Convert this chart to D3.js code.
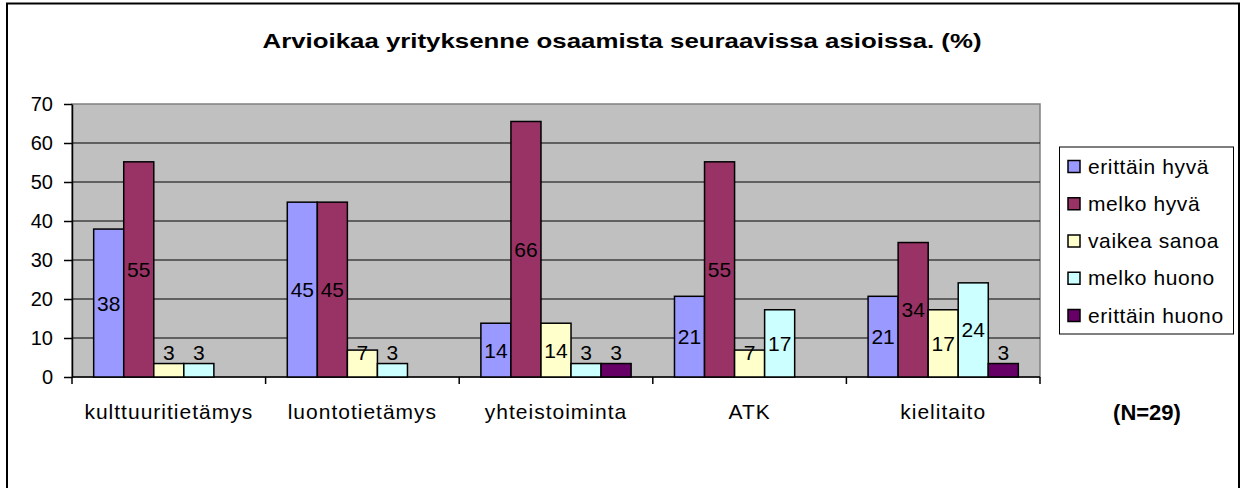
<!DOCTYPE html>
<html>
<head>
<meta charset="utf-8">
<script src="https://cdn.jsdelivr.net/npm/d3@7"></script>
<style>
  body { margin: 0; background: #fff; }
  svg { display: block; font-family: "Liberation Sans", Arial, sans-serif; }
</style>
</head>
<body>
<div id="chart"></div>
<script>
// categories and series
const categories = ["kulttuuritietämys", "luontotietämys", "yhteistoiminta", "ATK", "kielitaito"];
const series = ["erittäin hyvä", "melko hyvä", "vaikea sanoa", "melko huono", "erittäin huono"];
const colors = ["#9999FF", "#993366", "#FFFFCC", "#CCFFFF", "#660066"];

// percent values per series (one value per category)
const erittainHyva = [37.93, 44.83, 13.79, 20.69, 20.69];
const melkoHyva = [55.17, 44.83, 65.52, 55.17, 34.48];
const vaikeaSanoa = [3.45, 6.90, 13.79, 6.90, 17.24];
const melkoHuono = [3.45, 3.45, 3.45, 17.24, 24.14];
const erittainHuono = [0, 0, 3.45, 0, 3.45];
const seriesValues = [erittainHyva, melkoHyva, vaikeaSanoa, melkoHuono, erittainHuono];

const yTicks = [0, 10, 20, 30, 40, 50, 60, 70];
const title = "Arvioikaa yrityksenne osaamista seuraavissa asioissa. (%)";
const note = "(N=29)";

const W = 1245, H = 488;
const plot = { left: 72, right: 1040, top: 104, bottom: 377 };

const svg = d3.select("#chart").append("svg")
    .attr("width", W)
    .attr("height", H);

// outer chart border (bottom edge runs off the picture)
svg.append("rect")
    .attr("x", 7).attr("y", 3.5)
    .attr("width", 1232).attr("height", 500)
    .attr("fill", "#fff")
    .attr("stroke", "#000")
    .attr("stroke-width", 2);

svg.append("text")
    .attr("x", 622).attr("y", 48)
    .attr("text-anchor", "middle")
    .attr("font-weight", "bold")
    .attr("font-size", 21)
    .attr("textLength", 719)
    .attr("lengthAdjust", "spacingAndGlyphs")
    .text(title);

const x0 = d3.scaleBand()
    .domain(categories)
    .range([plot.left, plot.right])
    .padding(0);

const bw = x0.bandwidth();
const x1 = d3.scaleBand()
    .domain(series)
    .range([bw * 0.112, bw * 0.888])
    .padding(0);

const y = d3.scaleLinear()
    .domain([0, 70])
    .range([plot.bottom, plot.top]);

// plot area
svg.append("rect")
    .attr("x", plot.left).attr("y", plot.top)
    .attr("width", plot.right - plot.left)
    .attr("height", plot.bottom - plot.top)
    .attr("fill", "#C0C0C0")
    .attr("stroke", "#808080")
    .attr("stroke-width", 1.5);

// gridlines
svg.append("g")
    .selectAll("line")
    .data(yTicks.filter(d => d > 0 && d < 70))
    .join("line")
    .attr("x1", plot.left).attr("x2", plot.right)
    .attr("y1", d => y(d)).attr("y2", d => y(d))
    .attr("stroke", "#000")
    .attr("stroke-width", 1);

// y axis
const yAxis = svg.append("g")
    .attr("transform", `translate(${plot.left},0)`)
    .call(d3.axisLeft(y).tickValues(yTicks).tickSize(8).tickPadding(11).tickSizeOuter(0));
yAxis.select(".domain").attr("stroke", "#000").attr("stroke-width", 1.5);
yAxis.selectAll(".tick line").attr("stroke", "#000").attr("stroke-width", 1.5);
yAxis.selectAll(".tick text")
    .attr("font-size", 20)
    .attr("font-family", "Liberation Sans, Arial, sans-serif")
    .attr("fill", "#000");

// x axis: ticks between categories
const xAxisG = svg.append("g");
xAxisG.append("line")
    .attr("x1", plot.left).attr("x2", plot.right)
    .attr("y1", plot.bottom).attr("y2", plot.bottom)
    .attr("stroke", "#000").attr("stroke-width", 1.5);
const boundaries = categories.map(c => x0(c)).concat([x0(categories[categories.length - 1]) + bw]);
xAxisG.selectAll("line.tick")
    .data(boundaries)
    .join("line")
    .attr("class", "tick")
    .attr("x1", d => d).attr("x2", d => d)
    .attr("y1", plot.bottom).attr("y2", plot.bottom + 7)
    .attr("stroke", "#000").attr("stroke-width", 1.5);
xAxisG.selectAll("text")
    .data(categories)
    .join("text")
    .attr("x", d => x0(d) + bw / 2)
    .attr("y", 419)
    .attr("text-anchor", "middle")
    .attr("font-size", 21)
    .attr("letter-spacing", 1)
    .text(d => d);

// bars
const cells = [];
categories.forEach((c, ci) => {
  series.forEach((s, si) => {
    cells.push({ cat: c, ser: s, si, value: seriesValues[si][ci] });
  });
});
const shown = cells.filter(d => d.value > 0);

const groups = svg.append("g");
groups.selectAll("rect")
    .data(shown)
    .join("rect")
    .attr("x", d => x0(d.cat) + x1(d.ser))
    .attr("y", d => y(d.value))
    .attr("width", x1.bandwidth())
    .attr("height", d => y(0) - y(d.value))
    .attr("fill", d => colors[d.si])
    .attr("stroke", "#000")
    .attr("stroke-width", 1.5);

groups.selectAll("text")
    .data(shown)
    .join("text")
    .attr("x", d => x0(d.cat) + x1(d.ser) + x1.bandwidth() / 2)
    .attr("y", d => Math.min((y(d.value) + y(0)) / 2, y(0) - 25))
    .attr("dy", "0.36em")
    .attr("text-anchor", "middle")
    .attr("font-size", 21)
    .text(d => Math.round(d.value));

// legend
const legend = svg.append("g");
legend.append("rect")
    .attr("x", 1059.5).attr("y", 147)
    .attr("width", 174).attr("height", 187)
    .attr("fill", "#fff")
    .attr("stroke", "#000")
    .attr("stroke-width", 1);
const rowY = d3.scalePoint().domain(series).range([166, 315]);
const items = legend.selectAll("g.item")
    .data(series)
    .join("g")
    .attr("class", "item")
    .attr("transform", d => `translate(0,${rowY(d)})`);
items.append("rect")
    .attr("x", 1068).attr("y", -5.5)
    .attr("width", 12).attr("height", 12)
    .attr("fill", (d, i) => colors[i])
    .attr("stroke", "#000")
    .attr("stroke-width", 1.5);
items.append("text")
    .attr("x", 1088).attr("y", 0)
    .attr("dy", "0.36em")
    .attr("font-size", 21)
    .attr("letter-spacing", 0.6)
    .text(d => d);

svg.append("text")
    .attr("x", 1147).attr("y", 420)
    .attr("text-anchor", "middle")
    .attr("font-weight", "bold")
    .attr("font-size", 22)
    .text(note);
</script>
</body>
</html>
